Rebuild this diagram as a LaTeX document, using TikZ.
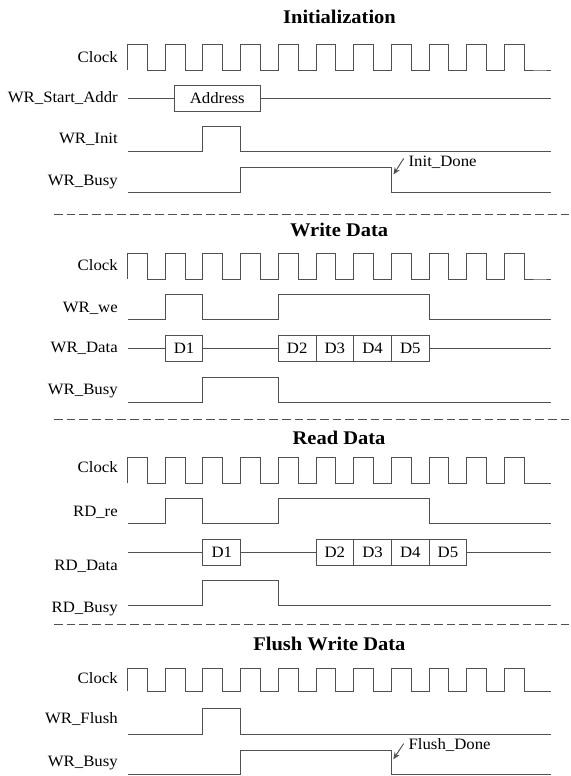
\documentclass[tikz,border=0pt]{standalone}
\usepackage{fontspec}
\setmainfont{Liberation Serif}[FakeStretch=1.06]
\usetikzlibrary{positioning,arrows.meta}
\definecolor{wavegray}{HTML}{505050}

\begin{document}
\begin{tikzpicture}[x=0.03cm,y=-0.03cm,
    wave/.style={draw=wavegray,line width=0.8pt},
    divider/.style={draw=wavegray,line width=0.8pt,dash pattern=on 0.26cm off 0.12cm},
    lbl/.style={anchor=mid east,inner sep=0pt,font=\fontsize{13.5}{16}\selectfont},
    ttl/.style={anchor=mid,inner sep=0pt,font=\fontsize{16.5}{19}\selectfont\bfseries},
    databox/.style={rectangle,draw=wavegray,line width=0.8pt,minimum width=1.131cm,minimum height=0.78cm,inner sep=0pt,outer sep=0pt,font=\fontsize{13.5}{16}\selectfont},
    note/.style={anchor=mid west,inner sep=4pt,font=\fontsize{13.5}{16}\selectfont},
    donearrow/.style={draw=wavegray,line width=0.8pt,-{Stealth[length=6pt,width=5pt]}},
    node distance=0pt]

\useasboundingbox (0,0) rectangle (571,776);

\node[ttl] (initttl) at (339.5,21) {Initialization};
\node[ttl] (writettl) at (339.1,234) {Write Data};
\node[ttl] (readttl) at (339,442) {Read Data};
\node[ttl] (flushttl) at (329.4,648) {Flush Write Data};

\node[lbl] (clkA) at (118,59.8) {Clock};
\node[lbl] (addrlbl) at (118,99.8) {WR\_Start\_Addr};
\node[lbl] (initlbl) at (118,140.8) {WR\_Init};
\node[lbl] (busyA) at (118,183.2) {WR\_Busy};

\node[lbl] (clkB) at (118,268.2) {Clock};
\node[lbl] (welbl) at (118,309.8) {WR\_we};
\node[lbl] (wdatalbl) at (118,349.8) {WR\_Data};
\node[lbl] (busyB) at (118,391.5) {WR\_Busy};

\node[lbl] (clkC) at (118,470.2) {Clock};
\node[lbl] (relbl) at (118,514) {RD\_re};
\node[lbl] (rdatalbl) at (118,567.5) {RD\_Data};
\node[lbl] (rbusylbl) at (118,610) {RD\_Busy};

\node[lbl] (clkD) at (118,680.8) {Clock};
\node[lbl] (flushlbl) at (118,720.8) {WR\_Flush};
\node[lbl] (busyD) at (118,764) {WR\_Busy};

\foreach \hi/\lo in {44.3/70,253.3/279,457.7/483.3,668.5/691.3}
  \draw[wave] (127.5,\lo) \foreach \k in {0,...,10} {-- ({127.5+37.7*\k},\hi) -- ({147.3+37.7*\k},\hi) -- ({147.3+37.7*\k},\lo) -- ({165.2+37.7*\k},\lo)} -- (550.8,\lo);

\node[databox,minimum width=2.595cm] (addr) at (217.3,98.3) {Address};
\draw[wave] (127.5,98.3) -- (addr.west);
\draw[wave] (addr.east) -- (550.8,98.3);
\draw[wave] (127.5,151) -| (202.9,126) -| (240.6,151) -- (550.8,151);
\draw[wave] (127.5,192.3) -| (240.6,167) -| (391.4,192.3) -- (550.8,192.3);
\node[note] (initdone) at (403.7,163.5) {Init\_Done};
\coordinate (initedge) at (393.5,174.5);
\draw[donearrow] ([yshift=3pt]initdone.west) -- (initedge);

\draw[divider] (53.9,214) -- (571,214);

\draw[wave] (127.5,319.3) -| (165.2,294.5) -| (202.9,319.3) -| (278.3,294.5) -| (429.1,319.3) -- (550.8,319.3);
\node[databox] (wd1) at (184.05,348.3) {D1};
\node[databox] (wd2) at (297.15,348.3) {D2};
\node[databox,right=of wd2] (wd3) {D3};
\node[databox,right=of wd3] (wd4) {D4};
\node[databox,right=of wd4] (wd5) {D5};
\draw[wave] (127.5,348.3) -- (wd1.west);
\draw[wave] (wd1.east) -- (wd2.west);
\draw[wave] (wd5.east) -- (550.8,348.3);
\draw[wave] (127.5,402.3) -| (202.9,377.7) -| (278.3,402.3) -- (550.8,402.3);

\draw[divider] (53.9,419.7) -- (571,419.7);

\draw[wave] (127.5,523.3) -| (165.2,498.7) -| (202.9,523.3) -| (278.3,498.7) -| (429.1,523.3) -- (550.8,523.3);
\node[databox] (rd1) at (221.75,552) {D1};
\node[databox] (rd2) at (334.85,552) {D2};
\node[databox,right=of rd2] (rd3) {D3};
\node[databox,right=of rd3] (rd4) {D4};
\node[databox,right=of rd4] (rd5) {D5};
\draw[wave] (127.5,552) -- (rd1.west);
\draw[wave] (rd1.east) -- (rd2.west);
\draw[wave] (rd5.east) -- (550.8,552);
\draw[wave] (127.5,605) -| (202.9,580.3) -| (278.3,605) -- (550.8,605);

\draw[divider] (53.9,624.5) -- (571,624.5);

\draw[wave] (127.5,734.3) -| (202.9,708.7) -| (240.6,734.3) -- (550.8,734.3);
\draw[wave] (127.5,774.3) -| (240.6,750.5) -| (391.4,774.3) -- (550.8,774.3);
\node[note] (flushdone) at (403.7,746.5) {Flush\_Done};
\coordinate (flushedge) at (393.3,759.3);
\draw[donearrow] ([yshift=1pt]flushdone.west) -- (flushedge);
\end{tikzpicture}
\end{document}
